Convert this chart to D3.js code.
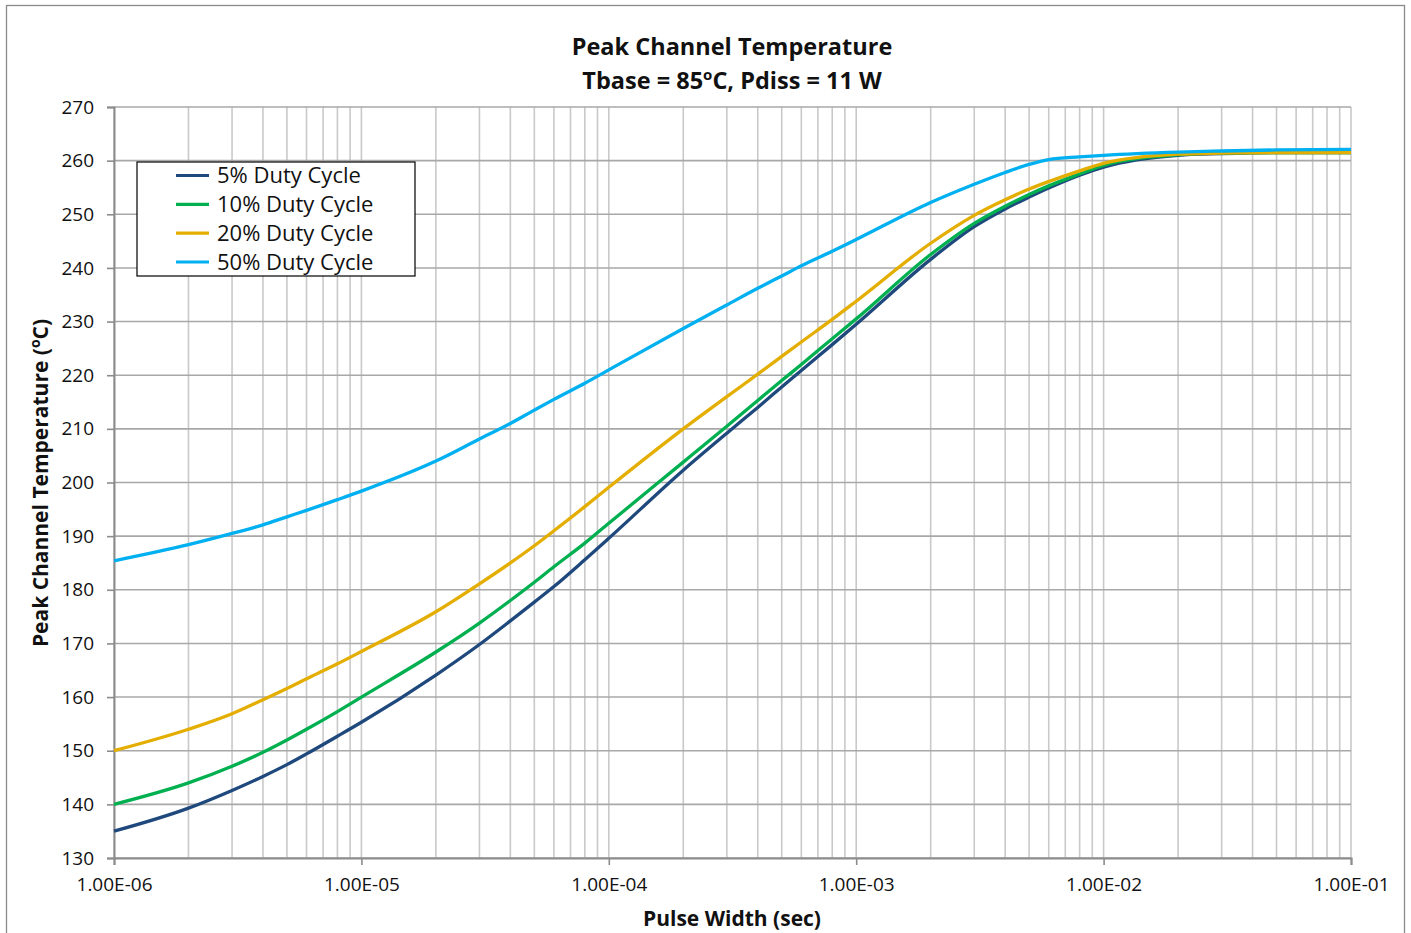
<!DOCTYPE html>
<html>
<head>
<meta charset="utf-8">
<script src="https://cdn.jsdelivr.net/npm/d3@7"></script>
<style>
  html, body { margin: 0; padding: 0; background: #fff; }
  svg { display: block; font-family: "Open Sans", "DejaVu Sans", sans-serif; }
</style>
</head>
<body>
<svg id="chart" width="1411" height="933"></svg>
<script>
// Pulse widths (seconds) shared by every series
const pulseWidth = [
  1e-6, 2e-6, 3e-6, 4e-6, 5e-6, 6e-6, 8e-6,
  1e-5, 2e-5, 3e-5, 4e-5, 5e-5, 6e-5, 8e-5,
  1e-4, 2e-4, 3e-4, 4e-4, 5e-4, 6e-4, 8e-4,
  1e-3, 2e-3, 3e-3, 4e-3, 5e-3, 6e-3, 8e-3,
  1e-2, 2e-2, 3e-2, 5e-2, 1e-1
];

// Peak channel temperature (°C) for each duty cycle
const duty5 = [
  135.0, 139.3, 142.6, 145.2, 147.4, 149.4, 152.7,
  155.3, 164.1, 169.8, 174.2, 177.7, 180.6, 185.6,
  189.6, 202.3, 209.2, 214.0, 217.8, 220.9, 225.7,
  229.5, 241.6, 247.7, 251.0, 253.2, 254.9, 257.3,
  258.8, 261.0, 261.3, 261.5, 261.5
];
const duty10 = [
  140.0, 144.0, 147.1, 149.7, 152.0, 154.0, 157.3,
  160.0, 168.4, 173.8, 178.0, 181.4, 184.3, 188.7,
  192.4, 203.8, 210.5, 215.3, 219.0, 222.0, 226.8,
  230.5, 242.5, 248.3, 251.5, 253.7, 255.3, 257.5,
  259.1, 261.1, 261.4, 261.5, 261.5
];
const duty20 = [
  150.0, 154.0, 156.9, 159.5, 161.6, 163.4, 166.2,
  168.5, 175.9, 181.1, 185.0, 188.2, 191.0, 195.5,
  199.1, 210.0, 216.0, 220.2, 223.5, 226.2, 230.4,
  233.8, 244.6, 249.8, 252.7, 254.7, 256.1, 258.1,
  259.5, 261.2, 261.4, 261.5, 261.5
];
const duty50 = [
  185.4, 188.4, 190.5, 192.1, 193.6, 194.8, 196.8,
  198.4, 204.0, 208.1, 211.0, 213.5, 215.5, 218.5,
  221.0, 228.7, 233.1, 236.2, 238.5, 240.4, 243.1,
  245.3, 252.2, 255.6, 257.8, 259.3, 260.2, 260.7,
  261.0, 261.6, 261.8, 262.0, 262.1
];

const seriesNames = ["5% Duty Cycle", "10% Duty Cycle", "20% Duty Cycle", "50% Duty Cycle"];
const seriesValues = [duty5, duty10, duty20, duty50];
const seriesColors = ["#1f497d", "#00b050", "#e4ae00", "#00b0f0"];

const xTickValues = [1e-6, 1e-5, 1e-4, 1e-3, 1e-2, 1e-1];
const xTickLabels = ["1.00E-06", "1.00E-05", "1.00E-04", "1.00E-03", "1.00E-02", "1.00E-01"];
const yTickValues = [130, 140, 150, 160, 170, 180, 190, 200, 210, 220, 230, 240, 250, 260, 270];

const svg = d3.select("#chart");
const plot = { left: 114, right: 1351, top: 107, bottom: 858 };

// Outer chart frame
svg.append("rect")
  .attr("x", 6.5).attr("y", 5.5)
  .attr("width", 1398).attr("height", 960)
  .attr("fill", "#fff").attr("stroke", "#8a8a8a").attr("stroke-width", 1.3);

const x = d3.scaleLog().domain([1e-6, 1e-1]).range([plot.left, plot.right]);
const y = d3.scaleLinear().domain([130, 270]).range([plot.bottom, plot.top]);

// Vertical gridlines: every 1..9 within each decade
const minorX = [];
for (let e = -6; e < -1; e++) {
  for (let m = 1; m <= 9; m++) minorX.push(m * Math.pow(10, e));
}
minorX.push(1e-1);

const grid = svg.append("g");
grid.selectAll("line.vx").data(minorX).join("line")
  .attr("class", "vx")
  .attr("x1", d => x(d)).attr("x2", d => x(d))
  .attr("y1", plot.top).attr("y2", plot.bottom)
  .attr("stroke", "#c9c9c9").attr("stroke-width", 1.6);

grid.selectAll("line.hy").data(yTickValues).join("line")
  .attr("class", "hy")
  .attr("x1", plot.left).attr("x2", plot.right)
  .attr("y1", d => y(d)).attr("y2", d => y(d))
  .attr("stroke", "#a8a8a8").attr("stroke-width", 1.6);

// Y axis
const yAxis = d3.axisLeft(y).tickValues(yTickValues).tickSize(7).tickPadding(13);
const gy = svg.append("g").attr("transform", `translate(${plot.left},0)`).call(yAxis);
gy.select(".domain").attr("stroke", "#8c8c8c").attr("stroke-width", 2);
gy.selectAll(".tick line").attr("stroke", "#8c8c8c").attr("stroke-width", 1.6);
gy.selectAll(".tick text")
  .attr("font-family", "Open Sans, sans-serif")
  .attr("font-size", 19).attr("fill", "#111");

// X axis
const xAxis = d3.axisBottom(x).tickValues(xTickValues)
  .tickFormat((d, i) => xTickLabels[i]).tickSize(7).tickPadding(13);
const gx = svg.append("g").attr("transform", `translate(0,${plot.bottom})`).call(xAxis);
gx.select(".domain").attr("stroke", "#8c8c8c").attr("stroke-width", 2);
gx.selectAll(".tick line").attr("stroke", "#8c8c8c").attr("stroke-width", 1.6);
gx.selectAll(".tick text")
  .attr("font-family", "Open Sans, sans-serif")
  .attr("font-size", 19).attr("fill", "#111");

// Series curves
const line = d3.line()
  .x((d, i) => x(pulseWidth[i]))
  .y(d => y(d))
  .curve(d3.curveMonotoneX);

svg.append("g").selectAll("path").data(seriesValues).join("path")
  .attr("d", d => line(d))
  .attr("fill", "none")
  .attr("stroke", (d, i) => seriesColors[i])
  .attr("stroke-width", 3.3)
  .attr("stroke-linejoin", "round");

// Titles
const title = svg.append("text")
  .attr("x", 732).attr("text-anchor", "middle")
  .attr("font-weight", "bold").attr("font-size", 23.5).attr("fill", "#111");
title.append("tspan").attr("x", 732).attr("y", 55).text("Peak Channel Temperature");
const t2 = title.append("tspan").attr("x", 732).attr("y", 89);
t2.append("tspan").text("Tbase = 85");
t2.append("tspan").attr("dy", -9).attr("font-size", 15).text("o");
t2.append("tspan").attr("dy", 9).text("C, Pdiss = 11 W");

svg.append("text")
  .attr("x", 732).attr("y", 926).attr("text-anchor", "middle")
  .attr("font-weight", "bold").attr("font-size", 21).attr("fill", "#111")
  .text("Pulse Width (sec)");

const yt = svg.append("text")
  .attr("transform", "translate(48,483) rotate(-90)")
  .attr("text-anchor", "middle")
  .attr("font-weight", "bold").attr("font-size", 21).attr("fill", "#111");
yt.append("tspan").text("Peak Channel Temperature (");
yt.append("tspan").attr("dy", -8).attr("font-size", 14).text("o");
yt.append("tspan").attr("dy", 8).text("C)");

// Legend
const legend = svg.append("g");
legend.append("rect")
  .attr("x", 137).attr("y", 162).attr("width", 278).attr("height", 114)
  .attr("fill", "#fff").attr("stroke", "#000").attr("stroke-width", 1.2);
const rowY = d3.scalePoint().domain(seriesNames).range([175.5, 262]);
const items = legend.selectAll("g.item").data(seriesNames).join("g").attr("class", "item");
items.append("line")
  .attr("x1", 176).attr("x2", 209)
  .attr("y1", d => rowY(d)).attr("y2", d => rowY(d))
  .attr("stroke", (d, i) => seriesColors[i]).attr("stroke-width", 3.2);
items.append("text")
  .attr("x", 217).attr("y", d => rowY(d))
  .attr("dy", "0.35em")
  .attr("font-size", 22).attr("fill", "#111")
  .text(d => d);
</script>
</body>
</html>
